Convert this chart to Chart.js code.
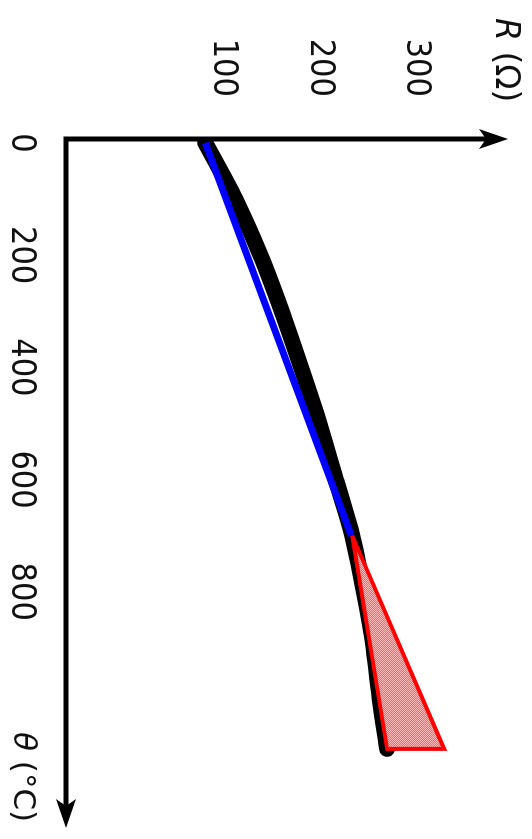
<!DOCTYPE html>
<html>
<head>
<meta charset="utf-8">
<script src="https://cdn.jsdelivr.net/npm/chart.js@4/dist/chart.umd.min.js"></script>
<style>
  html, body { margin: 0; padding: 0; background: #fff; overflow: hidden; }
  body { width: 532px; height: 839px; position: relative; }
  #wrap {
    position: absolute; left: 0; top: 0;
    width: 839px; height: 532px;
    transform-origin: 0 0;
    transform: translate(532px, 0) rotate(90deg);
  }
  canvas { display: block; }
</style>
</head>
<body>
<div id="wrap"><canvas id="c" width="839" height="532"></canvas></div>
<script>
// ---- data ----
const thetaTicks = [0, 200, 400, 600, 800];          // °C
const rTicks = [100, 200, 300];                       // Ω
const thetaCurve = [0, 100, 200, 300, 400, 500, 600, 700, 800, 900, 1000, 1080];
const rCurve     = [82, 113, 139, 161, 181, 200, 217, 234, 246, 256, 263, 270];
const thetaLinear = [0, 700];
const rLinear     = [82, 233];
const thetaError = [700, 1080, 1080, 700];
const rError     = [234, 270, 329, 234];
const thetaTitleVar = 'θ';
const thetaTitleUnit = ' (°C)';
const rTitleVar = 'R';
const rTitleUnit = ' (Ω)';

const toPts = (xs, ys) => xs.map((x, i) => ({ x: x, y: ys[i] }));

// hatched red fill pattern
function makePattern() {
  const p = document.createElement('canvas');
  p.width = 2; p.height = 2;
  const g = p.getContext('2d');
  g.fillStyle = '#ffb8b8'; g.fillRect(0, 0, 2, 2);
  g.fillStyle = '#ff6464'; g.fillRect(0, 0, 1, 1); g.fillRect(1, 1, 1, 1);
  return g.createPattern(p, 'repeat');
}

const FONT = '"DejaVu Sans Condensed", "DejaVu Sans", sans-serif';

const zeroPad = s => { s.paddingTop = 0; s.paddingBottom = 0; s.paddingLeft = 0; s.paddingRight = 0; };

const axesPlugin = {
  id: 'axesArrows',
  afterDatasetsDraw(chart) {
    const { ctx, chartArea: a } = chart;
    ctx.save();
    ctx.strokeStyle = '#000';
    ctx.fillStyle = '#000';
    ctx.lineWidth = 5;
    ctx.lineJoin = 'miter';
    ctx.lineCap = 'butt';
    const hl = 29, hw = 10, notch = 7;
    ctx.beginPath();
    ctx.moveTo(a.right - hl + notch, a.bottom);
    ctx.lineTo(a.left, a.bottom);
    ctx.lineTo(a.left, a.top + hl - notch);
    ctx.stroke();
    ctx.beginPath();
    ctx.moveTo(a.right, a.bottom);
    ctx.lineTo(a.right - hl, a.bottom - hw);
    ctx.lineTo(a.right - hl + notch, a.bottom);
    ctx.lineTo(a.right - hl, a.bottom + hw);
    ctx.closePath();
    ctx.fill();
    ctx.beginPath();
    ctx.moveTo(a.left, a.top);
    ctx.lineTo(a.left - hw, a.top + hl);
    ctx.lineTo(a.left, a.top + hl - notch);
    ctx.lineTo(a.left + hw, a.top + hl);
    ctx.closePath();
    ctx.fill();

    ctx.fillStyle = '#111';
    ctx.textBaseline = 'middle';
    ctx.textAlign = 'left';
    let fsz = 33;
    let x = a.left - 121, y = a.top + 3;
    ctx.font = 'italic ' + fsz + 'px "DejaVu Sans", sans-serif';
    ctx.fillText(rTitleVar, x, y);
    x += ctx.measureText(rTitleVar).width;
    ctx.font = fsz + 'px "DejaVu Sans", sans-serif';
    ctx.fillText(rTitleUnit, x, y);
    fsz = 31;
    x = a.right - 96; y = a.bottom + 44;
    ctx.font = 'italic ' + fsz + 'px "DejaVu Sans", sans-serif';
    ctx.fillText(thetaTitleVar, x, y);
    x += ctx.measureText(thetaTitleVar).width;
    ctx.font = fsz + 'px "DejaVu Sans", sans-serif';
    ctx.fillText(thetaTitleUnit, x, y);
    ctx.restore();
  }
};

new Chart(document.getElementById('c'), {
  type: 'scatter',
  data: {
    datasets: [
      {
        label: 'error',
        data: toPts(thetaError, rError),
        showLine: true,
        borderColor: '#ff0000',
        borderWidth: 4,
        borderJoinStyle: 'miter',
        backgroundColor: makePattern(),
        fill: 'shape',
        pointRadius: 0,
        order: 1
      },
      {
        label: 'linear',
        data: toPts(thetaLinear, rLinear),
        showLine: true,
        borderColor: '#0000ff',
        borderWidth: 7,
        borderCapStyle: 'butt',
        fill: false,
        pointRadius: 0,
        order: 2
      },
      {
        label: 'R(θ)',
        data: toPts(thetaCurve, rCurve),
        showLine: true,
        borderColor: '#000000',
        borderWidth: 16,
        borderCapStyle: 'round',
        borderJoinStyle: 'round',
        cubicInterpolationMode: 'monotone',
        fill: false,
        pointRadius: 0,
        order: 3
      }
    ]
  },
  options: {
    responsive: false,
    animation: false,
    events: [],
    devicePixelRatio: 1,
    layout: { padding: { left: 0, right: 11, top: 24, bottom: 0 } },
    plugins: { legend: { display: false }, tooltip: { enabled: false } },
    scales: {
      x: {
        type: 'linear',
        min: -7, max: 1221,
        grid: { display: false, drawTicks: false },
        border: { display: false },
        afterBuildTicks: s => { s.ticks = thetaTicks.map(v => ({ value: v })); },
        afterFit: s => { s.height = 66; zeroPad(s); },
        ticks: {
          color: '#111',
          padding: 25,
          font: { family: FONT, size: 34 },
          maxRotation: 0, autoSkip: false
        }
      },
      y: {
        type: 'linear',
        min: -62, max: 395,
        grid: { display: false, drawTicks: false },
        border: { display: false },
        afterBuildTicks: s => { s.ticks = rTicks.map(v => ({ value: v })); },
        afterFit: s => { s.width = 139; zeroPad(s); },
        ticks: {
          color: '#111',
          padding: 42,
          font: { family: FONT, size: 34 },
          autoSkip: false
        }
      }
    }
  },
  plugins: [axesPlugin]
});
</script>
</body>
</html>
